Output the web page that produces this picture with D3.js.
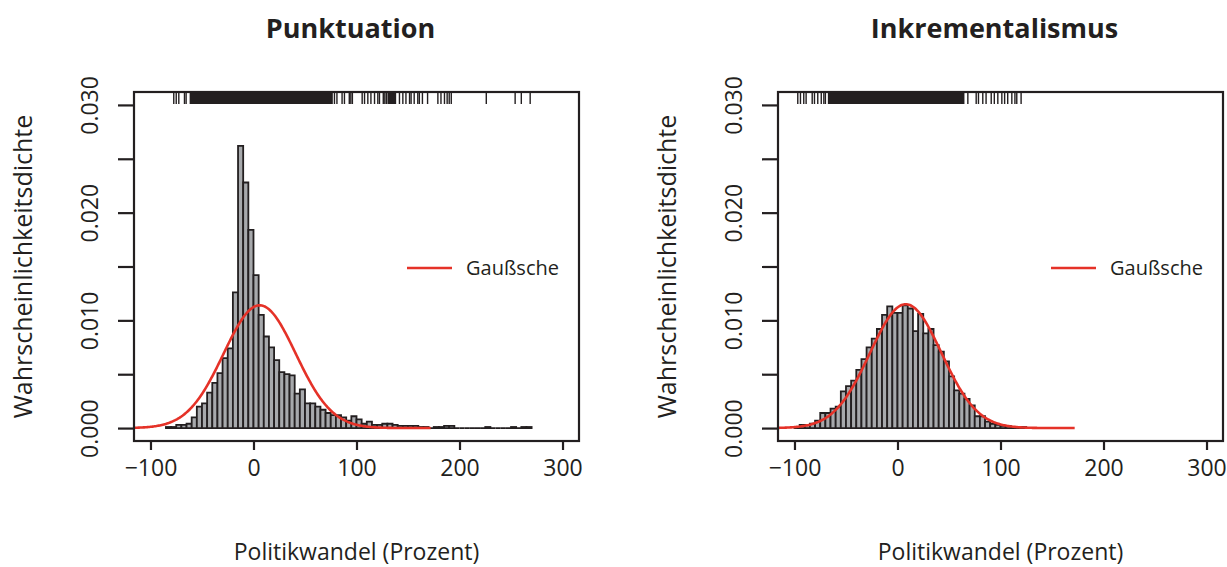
<!DOCTYPE html>
<html>
<head>
<meta charset="utf-8">
<script src="https://cdn.jsdelivr.net/npm/d3@7"></script>
<style>
  body { margin: 0; background: #fff; }
  text { font-family: "Open Sans", sans-serif; fill: #231f20; }
</style>
</head>
<body>
<svg id="chart" width="1227" height="567"></svg>
<script>
// Histogram densities (bin width 5)
const binWidth = 5;
const punktFirstBreak = -85;
const punktDensity = [
  0.0001, 0.0001, 0.0003, 0.0003, 0.0004, 0.0010, 0.0020, 0.0023, 0.0033, 0.0042,
  0.0051, 0.0065, 0.0074, 0.0126, 0.0262, 0.0228, 0.0184, 0.0142, 0.0105, 0.0085,
  0.0075, 0.0063, 0.0052, 0.0050, 0.0049, 0.0032, 0.0036, 0.0023, 0.0023, 0.0020,
  0.0017, 0.0014, 0.0012, 0.0012, 0.0010, 0.0007, 0.0011, 0.0008, 0.0004, 0.0006,
  0.0003, 0.0003, 0.0004, 0.0004, 0.0003, 0.0002, 0.0002, 0.0002, 0.0002, 0.0001,
  0.0001, 0.0000, 0.0001, 0.0001, 0.0002, 0.0002, 0.0000, 0.0000, 0.0000, 0.0000,
  0.0000, 0.0000, 0.0001, 0.0000, 0.0000, 0.0000, 0.0000, 0.0001, 0.0000, 0.0001,
  0.0001
];
const inkrFirstBreak = -100;
const inkrDensity = [
  0.0001, 0.0003, 0.0003, 0.0004, 0.0007, 0.0014, 0.0014, 0.0018, 0.0020, 0.0034,
  0.0039, 0.0044, 0.0054, 0.0064, 0.0075, 0.0083, 0.0092, 0.0105, 0.0113, 0.0107,
  0.0107, 0.0114, 0.0111, 0.0090, 0.0106, 0.0088, 0.0092, 0.0077, 0.0071, 0.0062,
  0.0048, 0.0035, 0.0032, 0.0027, 0.0021, 0.0011, 0.0011, 0.0006, 0.0004, 0.0003,
  0.0002, 0.0002, 0.0001, 0.0001, 0.0001, 0.0000
];

// Rug: single observations and stretches so dense they merge into a block
const punktRug = [-77.4, -75, -72.5, -67, -65.4, 78.6, 81, 86, 88.3, 93, 94.5, 96,
  105.5, 107.8, 111, 114, 117.5, 120.7, 122.3, 126, 127.5, 129, 141.7, 145, 148,
  151.5, 153, 156, 159.5, 161, 164, 169, 179, 182, 185.4, 188, 190, 192, 226, 254,
  260, 268.6];
const punktRugBands = [[-62, 77], [130, 138.5]];
const inkrRug = [-96.8, -94.2, -91, -88.7, -82.8, -80.6, -77.4, -74, -71.5, -70,
  68.3, 76.4, 78.6, 82.8, 86, 91, 94, 97.4, 101.3, 104, 107, 111, 114, 115.8, 120];
const inkrRugBands = [[-67.6, 65]];

// Fitted Gaussian (mean, sd) and the x range it is drawn over
const punktGauss = [6, 35];
const inkrGauss = [8, 34.7];
const gaussRange = [-130, 172];

const xTicks = [-100, 0, 100, 200, 300];
const yTicks = [0, 0.005, 0.010, 0.015, 0.020, 0.025, 0.030];
const yLabels = [0, 0.010, 0.020, 0.030];
const titles = ["Punktuation", "Inkrementalismus"];
const xTitle = "Politikwandel (Prozent)";
const yTitle = "Wahrscheinlichkeitsdichte";
const legendLabel = "Gaußsche";

const ink = "#231f20";
const red = "#e53228";
const svg = d3.select("#chart");

const attr = { top: 92, bottom: 441, width: 445 };

var drawPanel = function(left, idx, firstBreak, density, rug, bands, gauss) {
  const g = svg.append("g");
  const x = d3.scaleLinear().domain([-116, 316]).range([left, left + attr.width]);
  const y = d3.scaleLinear().domain([-0.0012, 0.0312]).range([attr.bottom, attr.top]);

  const clipId = "clip" + idx;
  g.append("clipPath").attr("id", clipId)
    .append("rect")
    .attr("x", left).attr("y", attr.top)
    .attr("width", attr.width).attr("height", attr.bottom - attr.top);

  // histogram (paths so that empty bins still leave their outline on the baseline)
  const bins = density.map((d, i) => ({ x0: firstBreak + i * binWidth, x1: firstBreak + (i + 1) * binWidth, d: d }));
  g.append("g").selectAll("path")
    .data(bins)
    .enter()
    .append("path")
    .attr("d", d => "M" + x(d.x0) + "," + y(0) + "V" + y(d.d) + "H" + x(d.x1) + "V" + y(0) + "Z")
    .style("fill", "#a7a9ac")
    .style("stroke", ink)
    .style("stroke-width", 1.8);

  // gaussian curve
  const pts = d3.range(gaussRange[0], gaussRange[1] + 0.5, 1);
  const pdf = v => Math.exp(-0.5 * Math.pow((v - gauss[0]) / gauss[1], 2)) / (gauss[1] * Math.sqrt(2 * Math.PI));
  g.append("path")
    .datum(pts)
    .attr("clip-path", "url(#" + clipId + ")")
    .attr("d", d3.line().x(d => x(d)).y(d => y(pdf(d))))
    .style("fill", "none")
    .style("stroke", red)
    .style("stroke-width", 2.6);

  // rug along the top
  const rugG = g.append("g").attr("clip-path", "url(#" + clipId + ")");
  rugG.selectAll("line")
    .data(rug)
    .enter()
    .append("line")
    .attr("x1", d => x(d)).attr("x2", d => x(d))
    .attr("y1", attr.top).attr("y2", attr.top + 12)
    .style("stroke", ink)
    .style("stroke-width", 1.4);
  rugG.selectAll("rect")
    .data(bands)
    .enter()
    .append("rect")
    .attr("x", d => x(d[0]))
    .attr("width", d => x(d[1]) - x(d[0]))
    .attr("y", attr.top)
    .attr("height", 12)
    .style("fill", ink);

  // box
  g.append("rect")
    .attr("x", left).attr("y", attr.top)
    .attr("width", attr.width).attr("height", attr.bottom - attr.top)
    .style("fill", "none")
    .style("stroke", ink)
    .style("stroke-width", 2.2);

  // axes
  const yAxis = d3.axisLeft(y)
    .tickValues(yTicks)
    .tickSize(16)
    .tickFormat(d => yLabels.some(v => Math.abs(v - d) < 1e-9) ? d3.format(".3f")(d) : "");
  const yg = g.append("g")
    .attr("transform", "translate(" + left + ",0)")
    .call(yAxis);
  yg.select(".domain").remove();
  yg.selectAll("line").style("stroke", ink).style("stroke-width", 2.2);
  yg.selectAll("text")
    .attr("x", null).attr("dy", null)
    .attr("text-anchor", "middle")
    .attr("transform", "translate(-36,0) rotate(-90)")
    .style("font-family", "Open Sans")
    .style("font-size", "23px")
    .style("fill", ink);

  const xAxis = d3.axisBottom(x)
    .tickValues(xTicks)
    .tickSize(9)
    .tickSizeOuter(0);
  const xg = g.append("g")
    .attr("transform", "translate(0," + attr.bottom + ")")
    .call(xAxis);
  xg.select(".domain").remove();
  xg.selectAll("line").style("stroke", ink).style("stroke-width", 2.2);
  xg.selectAll("text")
    .attr("y", 35).attr("dy", null)
    .style("font-family", "Open Sans")
    .style("font-size", "23px")
    .style("fill", ink);

  // titles
  g.append("text")
    .attr("x", left + attr.width / 2 - 6)
    .attr("y", 38)
    .attr("text-anchor", "middle")
    .style("font-size", "27px")
    .style("font-weight", "bold")
    .text(titles[idx]);

  g.append("text")
    .attr("x", left + attr.width / 2)
    .attr("y", 560)
    .attr("text-anchor", "middle")
    .style("font-size", "23px")
    .text(xTitle);

  g.append("text")
    .attr("transform", "translate(" + (left - 102) + "," + ((attr.top + attr.bottom) / 2) + ") rotate(-90)")
    .attr("text-anchor", "middle")
    .style("font-size", "25px")
    .text(yTitle);

  // legend
  g.append("line")
    .attr("x1", left + 273).attr("x2", left + 318)
    .attr("y1", 268).attr("y2", 268)
    .style("stroke", red)
    .style("stroke-width", 2.6);
  g.append("text")
    .attr("x", left + 332)
    .attr("y", 275)
    .style("font-size", "20px")
    .text(legendLabel);
};

drawPanel(134, 0, punktFirstBreak, punktDensity, punktRug, punktRugBands, punktGauss);
drawPanel(778, 1, inkrFirstBreak, inkrDensity, inkrRug, inkrRugBands, inkrGauss);
</script>
</body>
</html>
